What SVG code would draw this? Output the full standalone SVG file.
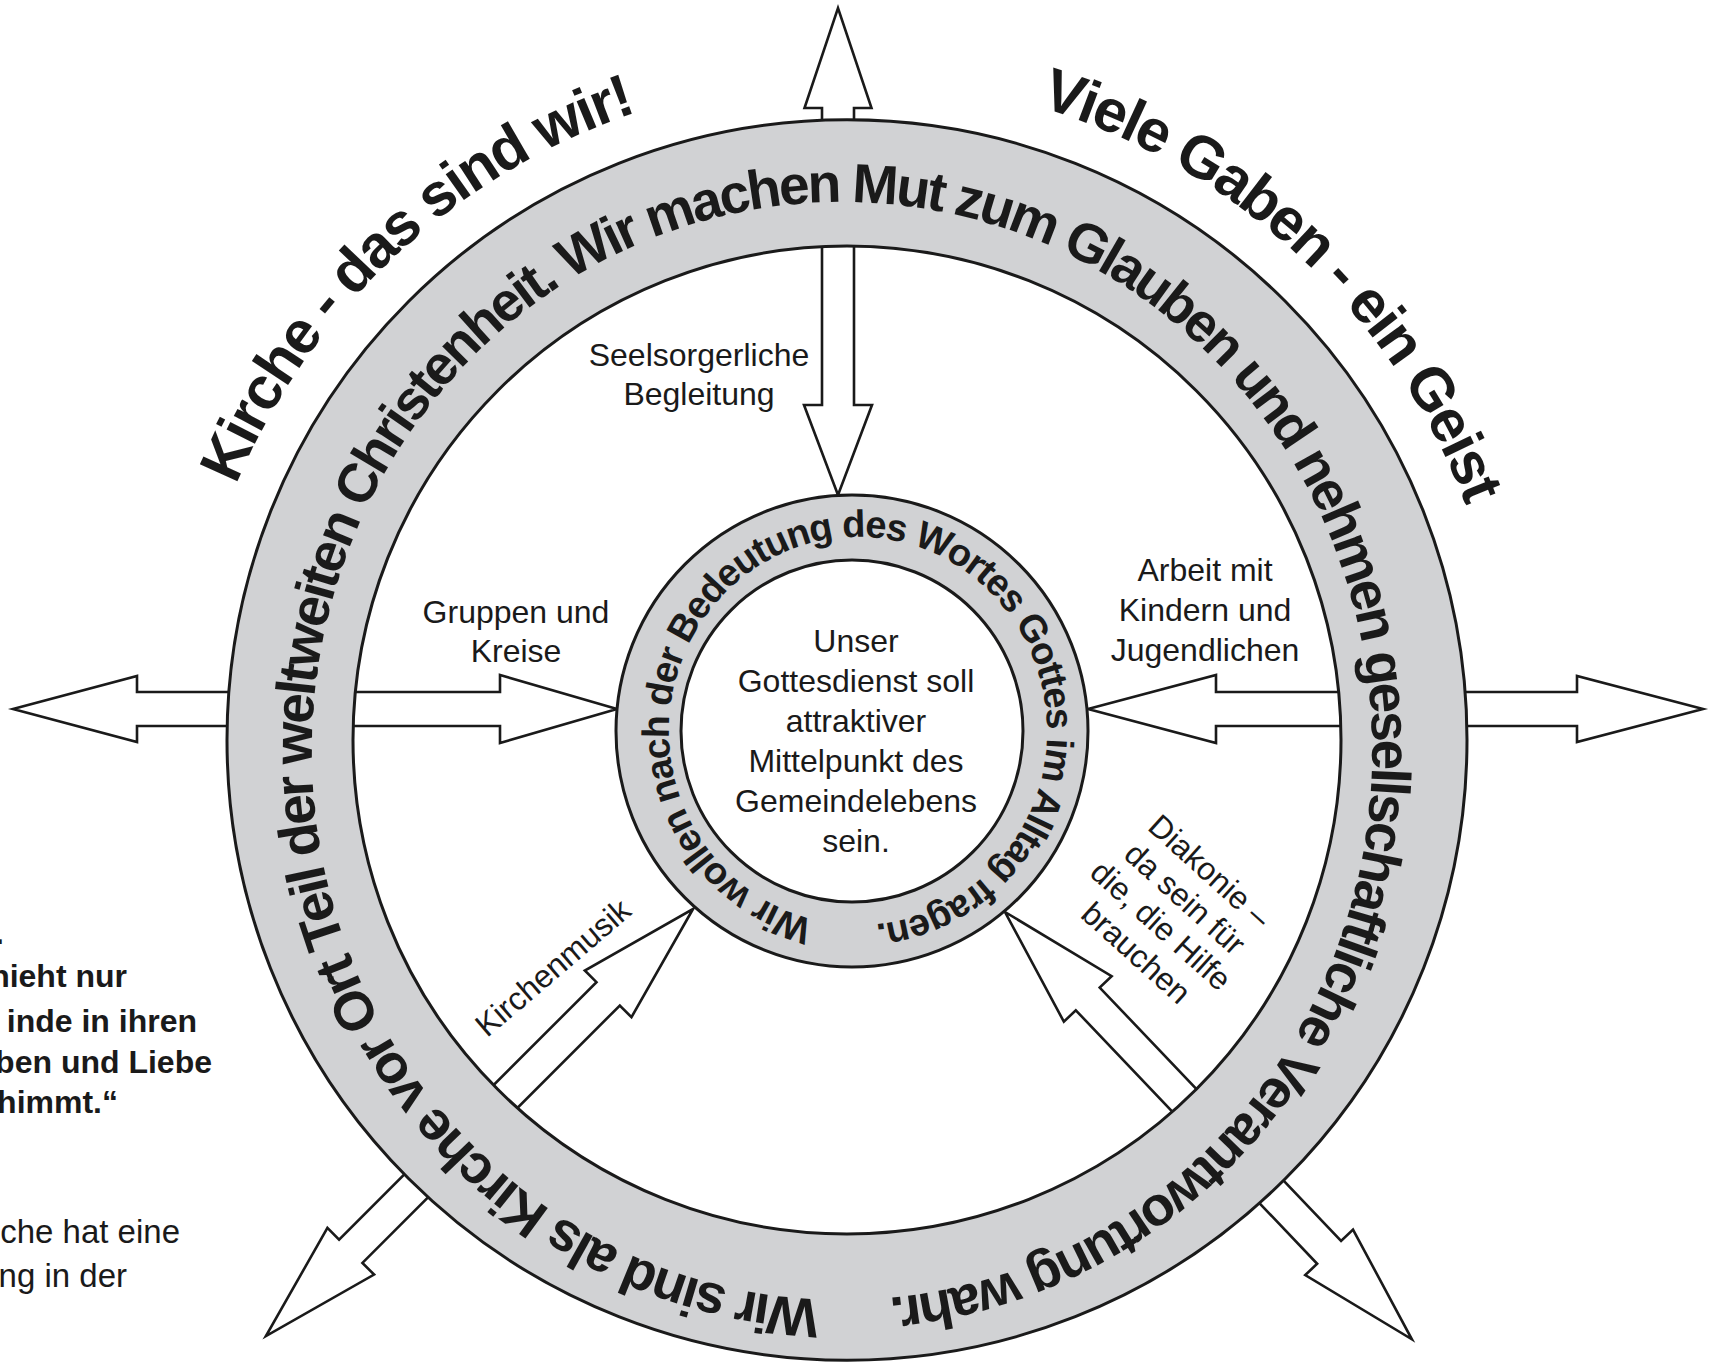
<svg xmlns="http://www.w3.org/2000/svg" width="1713" height="1362" viewBox="0 0 1713 1362">
<style>
.arrow{fill:#ffffff;stroke:#1a1a1a;stroke-width:2.6;stroke-linejoin:miter}
.ring{fill:#d1d2d4;stroke:#1a1a1a;stroke-width:3;fill-rule:evenodd}
.rt{font-family:"Liberation Sans",Arial,sans-serif;font-weight:bold;fill:#1a1a1a}
.lbl{font-family:"Liberation Sans",Arial,sans-serif;font-size:32px;fill:#1a1a1a;text-anchor:middle}
.side{font-family:"Liberation Sans",Arial,sans-serif;fill:#1a1a1a;text-anchor:end}
</style>
<defs>
<path id="bigPath" d="M 842 1300 A 530 549 0 1 1 842 202 A 530 549 0 1 1 842 1300"/>
<path id="smallPath" d="M 858 925 A 189 194 0 1 1 858 537 A 189 194 0 1 1 858 925"/>
<path id="outerPath" d="M 185 740 A 662 662 0 0 1 1509 740"/>
</defs>
<rect width="1713" height="1362" fill="#ffffff"/>

<g id="connectors">
<polygon class="arrow" transform="translate(838,495) rotate(-90)" points="0,0 90,-34 90,-16 387,-16 387,-33.5 487,0 387,33.5 387,16 90,16 90,34"/>
<polygon class="arrow" transform="translate(617,709) rotate(180)" points="0,0 117,-34 117,-17 480,-17 480,-33 604,0 480,33 480,17 117,17 117,34"/>
<polygon class="arrow" transform="translate(1088,709)" points="0,0 128,-34 128,-17 489,-17 489,-33 615,0 489,33 489,17 128,17 128,34"/>
<polygon class="arrow" transform="translate(693,909) rotate(135)" points="0,0 120,-33 120,-16.5 484,-16.5 484,-33 604,0 484,33 484,16.5 120,16.5 120,33"/>
<polygon class="arrow" transform="translate(1005,912) rotate(46.4)" points="0,0 120,-33 120,-16.5 470,-16.5 470,-33 590,0 470,33 470,16.5 120,16.5 120,33"/>
</g>

<g id="outer-ring">
<path class="ring" d="M 227 740 a 620 620 0 1 0 1240 0 a 620 620 0 1 0 -1240 0 Z M 353 740 a 494 494 0 1 0 988 0 a 494 494 0 1 0 -988 0 Z"/>
<text class="rt" font-size="55" letter-spacing="-2.8"><textPath href="#bigPath" startOffset="22">Wir sind als Kirche vor Ort Teil der weltweiten Christenheit. Wir machen Mut zum Glauben und nehmen gesellschaftliche Verantwortung wahr.</textPath></text>
</g>

<g id="title-left">
<text class="rt" font-size="60" letter-spacing="-2" text-anchor="middle"><textPath href="#outerPath" startOffset="543">Kirche - das sind wir!</textPath></text>
</g>
<g id="title-right">
<text class="rt" font-size="60" letter-spacing="-2" text-anchor="middle"><textPath href="#outerPath" startOffset="1537">Viele Gaben - ein Geist</textPath></text>
</g>

<g id="inner-ring">
<path class="ring" d="M 616 731 a 236 236 0 1 0 472 0 a 236 236 0 1 0 -472 0 Z M 681 731 a 171 171 0 1 0 342 0 a 171 171 0 1 0 -342 0 Z"/>
<text class="rt" font-size="38" letter-spacing="-1.25"><textPath href="#smallPath" startOffset="45">Wir wollen nach der Bedeutung des Wortes Gottes im Alltag fragen.</textPath></text>
</g>

<g id="center">
<text class="lbl" x="856" y="652">Unser</text>
<text class="lbl" x="856" y="692">Gottesdienst soll</text>
<text class="lbl" x="856" y="732">attraktiver</text>
<text class="lbl" x="856" y="772">Mittelpunkt des</text>
<text class="lbl" x="856" y="812">Gemeindelebens</text>
<text class="lbl" x="856" y="852">sein.</text>
</g>

<g id="label-seelsorge">
<text class="lbl" x="699" y="366">Seelsorgerliche</text>
<text class="lbl" x="699" y="405">Begleitung</text>
</g>
<g id="label-gruppen">
<text class="lbl" x="516" y="623">Gruppen und</text>
<text class="lbl" x="516" y="662">Kreise</text>
</g>
<g id="label-arbeit">
<text class="lbl" x="1205" y="581">Arbeit mit</text>
<text class="lbl" x="1205" y="621">Kindern und</text>
<text class="lbl" x="1205" y="661">Jugendlichen</text>
</g>
<g id="label-kirchenmusik">
<text class="lbl" transform="translate(560,976) rotate(-40.5)" x="0" y="0">Kirchenmusik</text>
</g>
<g id="label-diakonie" transform="translate(1173,912) rotate(42)">
<text class="lbl" font-size="30" x="0" y="-44">Diakonie –</text>
<text class="lbl" font-size="30" x="0" y="-7">da sein für</text>
<text class="lbl" font-size="30" x="0" y="29">die, die Hilfe</text>
<text class="lbl" font-size="30" x="0" y="66">brauchen</text>
</g>

<g id="side-text">
<text class="side" font-weight="bold" font-size="32" x="4" y="944">.</text>
<text class="side" font-weight="bold" font-size="32" x="127" y="987">hieht nur</text>
<text class="side" font-weight="bold" font-size="32" x="197" y="1032">inde in ihren</text>
<text class="side" font-weight="bold" font-size="32" x="212" y="1073">ben und Liebe</text>
<text class="side" font-weight="bold" font-size="32" x="118" y="1113">himmt.“</text>
<text class="side" font-size="33" x="180" y="1243">che hat eine</text>
<text class="side" font-size="33" x="127" y="1287">ng in der</text>
</g>
</svg>
